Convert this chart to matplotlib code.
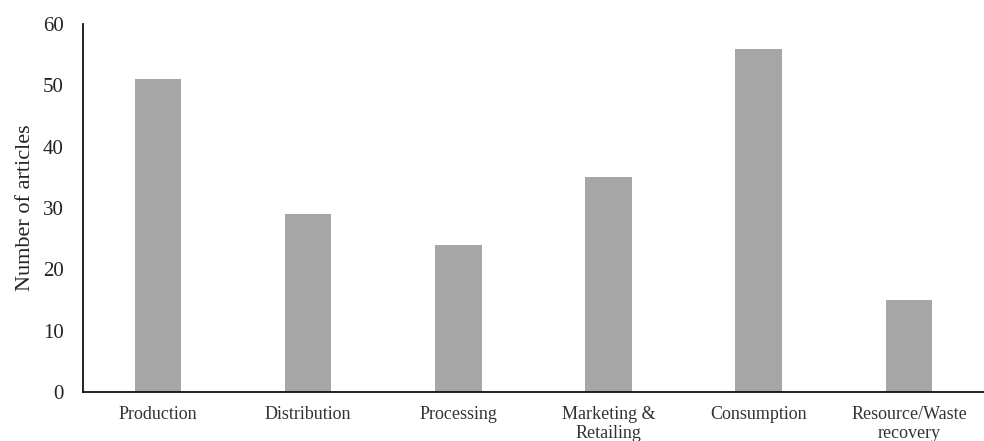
import matplotlib
matplotlib.use("Agg")
import matplotlib.pyplot as plt

categories = ["Production", "Distribution", "Processing",
              "Marketing &\nRetailing", "Consumption", "Resource/Waste\nrecovery"]
articles = [51, 29, 24, 35, 56, 15]

plt.rcParams['font.family'] = ['Liberation Serif', 'DejaVu Serif']

fig = plt.figure(figsize=(9.84, 4.41), dpi=100)
ax = fig.add_axes([0.0843, 0.111, 0.9157, 0.8344])

x = range(len(categories))
ax.bar(x, articles, width=0.31, color='#a6a6a6')

ax.set_xlim(-0.5, len(categories) - 0.5)
ax.set_ylim(0, 60)
ax.set_yticks(range(0, 61, 10))
ax.set_xticks(list(x))
ax.set_xticklabels(categories, fontsize=13, color='#333333', linespacing=1.15)
ax.tick_params(axis='y', length=0, pad=14, labelsize=15, labelcolor='#222222')
ax.tick_params(axis='x', length=0, pad=10)
ax.set_ylabel("Number of articles", fontsize=16, color='#222222')
ax.yaxis.set_label_coords(-0.053, 0.5)

for s in ['top', 'right']:
    ax.spines[s].set_visible(False)
for s in ['left', 'bottom']:
    ax.spines[s].set_linewidth(1.3)
    ax.spines[s].set_color('#111111')

fig.savefig("out.png", dpi=100)
